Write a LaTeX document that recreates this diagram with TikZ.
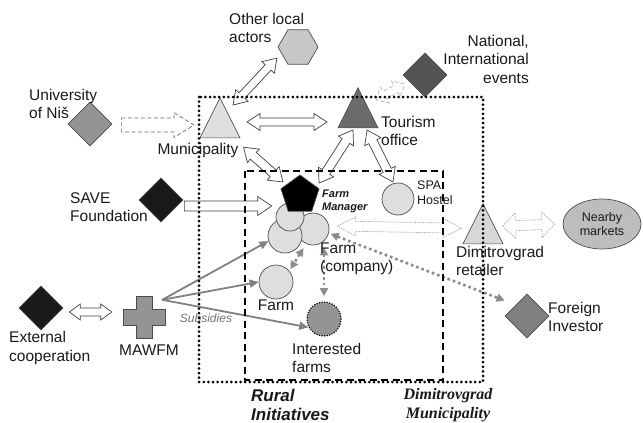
\documentclass[tikz,border=0pt]{standalone}
\usepackage{fontspec}
\setmainfont{Liberation Sans}
\newfontfamily\timesfont{Liberation Serif}
\usetikzlibrary{shapes.geometric,arrows.meta,calc}

\definecolor{palegray}{gray}{0.87}
\definecolor{hexgray}{gray}{0.78}
\definecolor{ovalgray}{gray}{0.74}
\definecolor{midgray}{gray}{0.58}
\definecolor{slategray}{gray}{0.50}
\definecolor{darkgray}{gray}{0.42}
\definecolor{deepgray}{gray}{0.33}
\definecolor{inkgray}{gray}{0.10}

\tikzset{
  fat/shaft/.store in=\fatS, fat/head/.store in=\fatH, fat/tip/.store in=\fatK,
  fat/shaft=4pt, fat/head=8.5pt, fat/tip=13pt,
  fatline/.style={draw=black!75, fill=white, line width=0.7pt, line join=miter},
  fatdash/.style={fatline, draw=black!60, dash pattern=on 4pt off 2.5pt},
  fatdot/.style={fatline, draw=black!35, dash pattern=on 1.5pt off 1.2pt},
  shapebase/.style={draw=black!70, line width=0.7pt, inner sep=0pt},
  dia/.style={shapebase, diamond, minimum size=44pt},
  tri/.style={shapebase, isosceles triangle, isosceles triangle apex angle=53,
    shape border rotate=90, minimum width=40pt, minimum height=40pt, anchor=apex},
  ball/.style={shapebase, circle},
  lbl/.style={align=left, anchor=west, inner sep=0pt},
  dotlink/.style={draw=black!45, line width=2.6pt, dash pattern=on 2.6pt off 3pt,
    {Triangle[length=8pt,width=8pt]}-{Triangle[length=8pt,width=8pt]},
    shorten <=2pt, shorten >=2pt},
  sublink/.style={draw=black!50, line width=1.8pt, -{Triangle[length=9pt,width=8pt]}},
  muniframe/.style={line width=3pt, dash pattern=on 0pt off 4.6pt, line cap=round},
  ruralframe/.style={line width=1.7pt, dash pattern=on 7pt off 4.5pt}
}

% outlined block arrows between two points
\newcommand\fatboth[3][]{%
  \draw[fatline,#1] let \p1=(#2), \p2=(#3), \n1={atan2(\y2-\y1,\x2-\x1)},
    \n2={veclen(\x2-\x1,\y2-\y1)} in [shift={(\p1)}, rotate=\n1]
    (0pt,0pt) -- (\fatK,\fatH) -- (\fatK,\fatS) -- ({\n2-\fatK},\fatS)
    -- ({\n2-\fatK},\fatH) -- (\n2,0pt) -- ({\n2-\fatK},-\fatH)
    -- ({\n2-\fatK},-\fatS) -- (\fatK,-\fatS) -- (\fatK,-\fatH) -- cycle;}
\newcommand\fatone[3][]{%
  \draw[fatline,#1] let \p1=(#2), \p2=(#3), \n1={atan2(\y2-\y1,\x2-\x1)},
    \n2={veclen(\x2-\x1,\y2-\y1)} in [shift={(\p1)}, rotate=\n1]
    (0pt,\fatS) -- ({\n2-\fatK},\fatS) -- ({\n2-\fatK},\fatH) -- (\n2,0pt)
    -- ({\n2-\fatK},-\fatH) -- ({\n2-\fatK},-\fatS) -- (0pt,-\fatS) -- cycle;}

\begin{document}
\begin{tikzpicture}[x=1pt, y=-1pt, font=\fontsize{15.5}{18.5}\selectfont, text=black!90]
\useasboundingbox (0,0) rectangle (643,423);

% actors
\node[shapebase, regular polygon, regular polygon sides=6, minimum size=40pt, fill=hexgray] (othr) at (298,47) {};
\node[dia, fill=midgray] (uni) at (90,124) {};
\node[tri, fill=palegray] (muni) at (220,97) {};
\node[tri, fill=darkgray] (tour) at (358,87) {};
\node[dia, fill=deepgray] (natl) at (425,75) {};
\node[dia, fill=inkgray] (save) at (161,200) {};
\node[dia, fill=inkgray] (extc) at (41,308) {};
\node[minimum size=42pt, inner sep=0pt] (maw) at (144,317) {};
\filldraw[shapebase, fill=midgray] (maw.center) ++(-8,-21) -- ++(16,0) -- ++(0,13) -- ++(13,0)
  -- ++(0,16) -- ++(-13,0) -- ++(0,13) -- ++(-16,0) -- ++(0,-13) -- ++(-13,0) -- ++(0,-16) -- ++(13,0) -- cycle;
\coordinate (mawhub) at ($(maw.north east)+(-3,4)$);

% farm cluster
\node[ball, minimum size=32pt, fill=palegray] (c3) at (313,229) {};
\node[ball, minimum size=34pt, fill=palegray] (c2) at (285,236) {};
\node[ball, minimum size=28pt, fill=palegray] (c1) at (290,217) {};
\node[shapebase, regular polygon, regular polygon sides=5, minimum size=40pt, fill=black] (mgr) at (300,195) {};

\node[ball, minimum size=32pt, fill=palegray] (spa) at (398,199) {};
\node[tri, fill=hexgray!70!white] (retl) at (483,203) {};
\node[shapebase, ellipse, minimum width=78pt, minimum height=50pt, fill=ovalgray, align=center,
  font=\fontsize{12.5}{14.5}\selectfont] (mkts) at (602,224) {Nearby\\markets};
\node[dia, fill=slategray] (invs) at (527,316) {};
\node[ball, minimum size=34pt, fill=palegray] (farm) at (276,282) {};
\node[ball, minimum size=34pt, fill=midgray, draw=black, line width=1.6pt,
  dash pattern=on 0pt off 2.6pt, line cap=round] (intr) at (324,319) {};

% block arrows
\fatone[fatdash, fat/shaft=7pt, fat/head=12.5pt, fat/tip=20pt]{$(uni.east)+(9,1)$}{$(muni.apex)+(-26,28)$}
\fatboth{$(muni.apex)+(27,25)$}{$(tour.apex)+(-31,35)$}
\fatboth{$(muni.apex)+(13,8)$}{$(othr.center)+(-21,11)$}
\fatboth[fat/shaft=4.5pt, fat/head=9pt]{$(muni.right corner)+(3,9)$}{$(mgr.center)+(-17,-13)$}
\fatboth[fat/shaft=4.5pt, fat/head=9pt]{$(tour.apex)+(-5,43)$}{$(mgr.center)+(19,-12)$}
\fatboth[fat/shaft=4.5pt, fat/head=9pt]{$(tour.apex)+(9,43)$}{$(spa.center)+(-5,-17)$}
\fatone[fat/shaft=5pt, fat/head=9.5pt, fat/tip=14pt]{$(save.east)+(1,6)$}{$(c1.west)+(-4,-11)$}
\fatboth[fatdot, fat/shaft=5pt, fat/head=9.5pt, fat/tip=18pt]{$(c3.east)+(8,-3)$}{$(retl.left corner)+(-1,-16)$}
\fatboth[fatdot, fat/shaft=5pt, fat/head=13pt, fat/tip=13pt]{$(retl.right corner)+(-1,-18)$}{$(mkts.west)+(-8,0)$}
\fatboth[fatdash, draw=black!30, fat/shaft=4pt, fat/head=9pt, fat/tip=10pt]{$(tour.apex)+(18,13)$}{$(natl.west)+(2,9)$}
\fatboth[fat/head=8pt, fat/tip=11pt]{$(extc.east)+(6,4)$}{$(maw.west)+(-11,-5)$}

% farm links
\draw[dotlink, shorten <=5pt] (c3.-115) -- (farm.40);
\draw[dotlink, shorten >=5pt] (intr.north |- c3.south) -- (intr.north);
\draw[dotlink, shorten >=12pt] (c3.-15) -- (invs.north west);
\draw[sublink] (mawhub) -- (c2.-163);
\draw[sublink] (mawhub) -- (farm.west);
\draw[sublink] (mawhub) -- (intr.-152);

% labels
\node[lbl] (othrtxt) at (229,28) {Other local\\actors};
\node[lbl] (unitxt) at (29,104) {University\\of Niš};
\node[inner sep=0pt] (munitxt) at (198,150) {Municipality};
\node[lbl] (tourtxt) at (381,131) {Tourism\\office};
\node[lbl, anchor=east, align=right] (natltxt) at (529,59) {National,\\International\\events};
\node[lbl] (savetxt) at (70,207) {SAVE\\Foundation};
\node[lbl, font=\fontsize{11}{13}\selectfont\bfseries\itshape] (mgrtxt) at (322,201) {Farm\\Manager};
\node[lbl, font=\fontsize{12.5}{15}\selectfont] (spatxt) at (417,193) {SPA\\Hostel};
\node[lbl] (comptxt) at (320,259) {Farm\\(company)};
\node[lbl] (retltxt) at (456,261) {Dimitrovgrad\\retailer};
\node[lbl] (invstxt) at (548,317) {Foreign\\Investor};
\node[inner sep=0pt] (farmtxt) at (276,305) {Farm};
\node[lbl] (intrtxt) at (292,358) {Interested\\farms};
\node[inner sep=0pt] (mawtxt) at (149,350) {MAWFM};
\node[lbl] (extctxt) at (9,348) {External\\cooperation};
\node[inner sep=0pt, text=black!55, font=\fontsize{12}{14}\selectfont\itshape] (subtxt) at (206,318) {Subsidies};
\node[lbl, font=\fontsize{17}{19}\selectfont\bfseries\itshape] (rurtxt) at (251,405) {Rural\\Initiatives};
\node[inner sep=0pt, align=center, font=\fontsize{16}{18.5}\selectfont\timesfont\bfseries\itshape] (dmuntxt) at (448,405) {Dimitrovgrad\\Municipality};

% boundaries
\draw[muniframe] (199,97) rectangle (483,382);
\draw[ruralframe] (245,171) rectangle (443,380);
\end{tikzpicture}
\end{document}
